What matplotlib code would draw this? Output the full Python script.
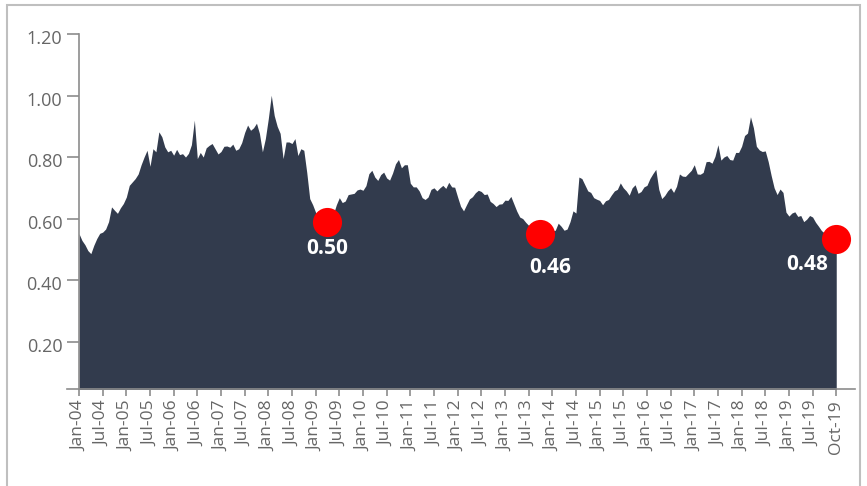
import matplotlib
matplotlib.use("Agg")
import matplotlib.pyplot as plt
import numpy as np
from matplotlib.patches import Rectangle
import matplotlib.transforms as mtransforms

# ---- data (approx. every ~3 weeks, 8 points per half-year) ----
values = [
    0.551, 0.529, 0.515, 0.496, 0.486, 0.513, 0.535, 0.552,
    0.556, 0.566, 0.590, 0.638, 0.627, 0.617, 0.635, 0.649,
    0.670, 0.708, 0.719, 0.730, 0.745, 0.775, 0.800, 0.822,
    0.770, 0.827, 0.817, 0.882, 0.866, 0.833, 0.817, 0.822,
    0.806, 0.825, 0.808, 0.811, 0.800, 0.812, 0.840, 0.920,
    0.795, 0.815, 0.800, 0.830, 0.838, 0.844, 0.827, 0.810,
    0.818, 0.835, 0.836, 0.832, 0.842, 0.822, 0.827, 0.847,
    0.880, 0.904, 0.887, 0.895, 0.910, 0.877, 0.817, 0.860,
    0.925, 1.001, 0.935, 0.900, 0.877, 0.795, 0.849, 0.849,
    0.844, 0.860, 0.805, 0.827, 0.822, 0.750, 0.665, 0.645,
    0.620, 0.605, 0.595, 0.590, 0.590, 0.600, 0.615, 0.645,
    0.668, 0.652, 0.657, 0.678, 0.680, 0.682, 0.693, 0.696,
    0.692, 0.707, 0.746, 0.757, 0.735, 0.724, 0.743, 0.751,
    0.732, 0.725, 0.748, 0.778, 0.792, 0.765, 0.775, 0.775,
    0.715, 0.703, 0.703, 0.690, 0.668, 0.662, 0.670, 0.695,
    0.700, 0.690, 0.700, 0.708, 0.698, 0.718, 0.703, 0.702,
    0.670, 0.640, 0.625, 0.645, 0.664, 0.671, 0.684, 0.692,
    0.688, 0.678, 0.680, 0.656, 0.649, 0.639, 0.647, 0.648,
    0.660, 0.659, 0.672, 0.648, 0.624, 0.605, 0.600, 0.588,
    0.578, 0.568, 0.558, 0.552, 0.550, 0.552, 0.555, 0.558,
    0.560, 0.562, 0.585, 0.575, 0.562, 0.566, 0.590, 0.625,
    0.618, 0.735, 0.730, 0.710, 0.690, 0.685, 0.668, 0.663,
    0.659, 0.645, 0.658, 0.662, 0.677, 0.690, 0.695, 0.716,
    0.700, 0.690, 0.676, 0.700, 0.710, 0.682, 0.688, 0.703,
    0.708, 0.730, 0.746, 0.760, 0.695, 0.665, 0.675, 0.690,
    0.700, 0.685, 0.705, 0.745, 0.738, 0.737, 0.747, 0.757,
    0.775, 0.745, 0.744, 0.750, 0.785, 0.786, 0.780, 0.802,
    0.840, 0.790, 0.800, 0.805, 0.792, 0.790, 0.815, 0.815,
    0.835, 0.870, 0.878, 0.931, 0.895, 0.835, 0.823, 0.818,
    0.820, 0.785, 0.740, 0.700, 0.678, 0.696, 0.685, 0.621,
    0.608, 0.618, 0.622, 0.607, 0.610, 0.590, 0.598, 0.610,
    0.605, 0.588, 0.575, 0.561, 0.553, 0.548, 0.542, 0.538,
    0.532,
]

tick_labels = [
    "Jan-04", "Jul-04", "Jan-05", "Jul-05", "Jan-06", "Jul-06", "Jan-07", "Jul-07",
    "Jan-08", "Jul-08", "Jan-09", "Jul-09", "Jan-10", "Jul-10", "Jan-11", "Jul-11",
    "Jan-12", "Jul-12", "Jan-13", "Jul-13", "Jan-14", "Jul-14", "Jan-15", "Jul-15",
    "Jan-16", "Jul-16", "Jan-17", "Jul-17", "Jan-18", "Jul-18", "Jan-19", "Jul-19",
    "Oct-19",
]
points_per_label = 8

y_ticks = [0.2, 0.4, 0.6, 0.8, 1.0, 1.2]

highlight_idx = [84, 156, 256]
highlight_labels = ["0.50", "0.46", "0.48"]

# ---- styling ----
fill_color = "#323b4d"
axis_color = "#8c8c8c"
text_color = "#666666"
font = ["Open Sans", "DejaVu Sans"]

plt.rcParams["font.family"] = font

fig = plt.figure(figsize=(8.67, 4.86), dpi=100)
ax = fig.add_axes([67 / 867, 1 - 389 / 486, (855 - 67) / 867, (389 - 34) / 486])

x = np.arange(len(values))
y = np.array(values)
ymin, ymax = 0.046, 1.2

ax.fill_between(x, 0, y, color=fill_color, linewidth=0, zorder=2)

step_px = 2.958
ax.set_xlim(-12 / step_px, (855 - 79) / step_px)
ax.set_ylim(ymin, ymax)

for s in ["top", "right"]:
    ax.spines[s].set_visible(False)
ax.spines["left"].set_position(("data", 0))
ax.spines["left"].set_color(axis_color)
ax.spines["bottom"].set_color(axis_color)
ax.spines["left"].set_linewidth(1.2)
ax.spines["bottom"].set_linewidth(1.2)

ax.set_yticks(y_ticks)
ax.set_yticklabels([f"{v:.2f}" for v in y_ticks])
ax.tick_params(axis="y", length=9, width=1.2, color=axis_color,
               labelcolor=text_color, labelsize=13, pad=3)
shift = mtransforms.ScaledTranslation(0, -3 / 100, fig.dpi_scale_trans)
for lab in ax.get_yticklabels():
    lab.set_transform(lab.get_transform() + shift)

xt = [i * points_per_label for i in range(len(tick_labels))]
ax.set_xticks(xt)
ax.set_xticklabels(tick_labels, rotation=90)
ax.tick_params(axis="x", length=5, width=1.2, color=axis_color,
               labelcolor=text_color, labelsize=12.5, pad=3)

offsets = [(0, -19), (7, -24), (-21, -18)]
for idx, lab, off in zip(highlight_idx, highlight_labels, offsets):
    ax.scatter([x[idx]], [y[idx]], s=440, color="#ff0000", zorder=5,
               linewidths=0, clip_on=False)
    ax.annotate(lab, (x[idx], y[idx]), xytext=off, textcoords="offset points",
                ha="center", va="center", color="white", fontsize=15,
                fontweight="bold", zorder=6)

# outer frame
fig.add_artist(Rectangle((7 / 867, -0.05), (860 - 7) / 867, 1.05 - 5 / 486,
                         transform=fig.transFigure, fill=False,
                         edgecolor="#bfbfbf", linewidth=1.5))

fig.savefig("out.png", dpi=100)
